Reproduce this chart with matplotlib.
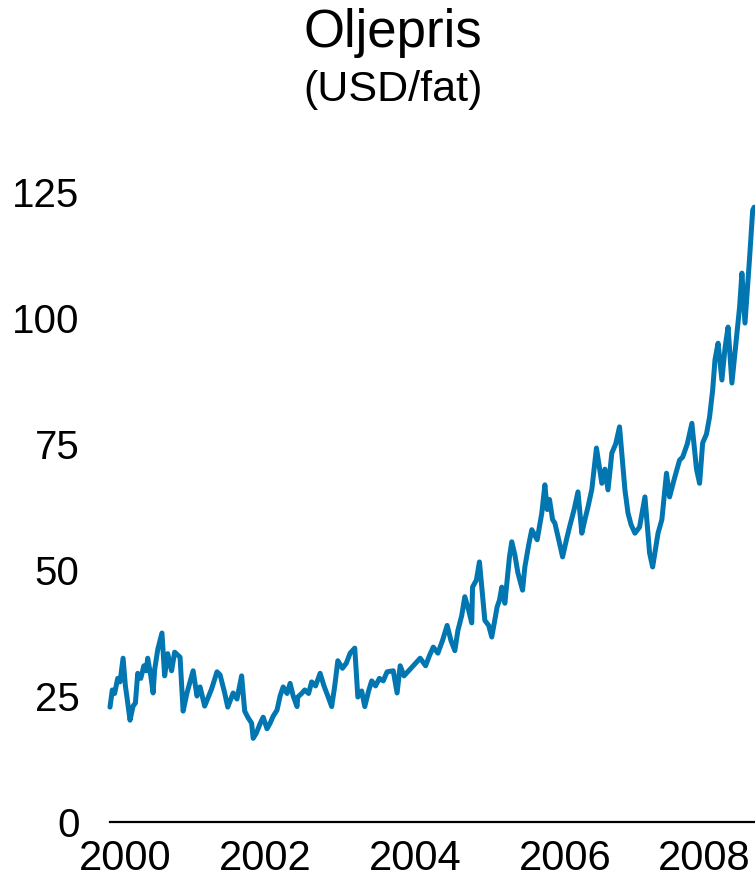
import matplotlib
matplotlib.use("Agg")
import matplotlib.pyplot as plt
import matplotlib.transforms as mtransforms

plt.rcParams['font.family'] = ['Liberation Sans', 'DejaVu Sans']

title = "Oljepris"
subtitle = "(USD/fat)"

years = [
    2000.00, 2000.03, 2000.06, 2000.10, 2000.13, 2000.17, 2000.20, 2000.22, 2000.26, 2000.30,
    2000.33, 2000.36, 2000.40, 2000.44, 2000.47, 2000.49, 2000.53, 2000.56, 2000.58, 2000.62,
    2000.675, 2000.71, 2000.75, 2000.80, 2000.84, 2000.91, 2000.95, 2001.00, 2001.08, 2001.13,
    2001.17, 2001.23, 2001.32, 2001.39, 2001.43, 2001.49, 2001.53, 2001.60, 2001.65, 2001.71,
    2001.75, 2001.79, 2001.84, 2001.86, 2001.90, 2001.95, 2001.99, 2002.04, 2002.08, 2002.12,
    2002.17, 2002.21, 2002.25, 2002.30, 2002.34, 2002.38, 2002.43, 2002.44, 2002.49, 2002.53,
    2002.58, 2002.62, 2002.67, 2002.73, 2002.78, 2002.83, 2002.88, 2002.92, 2002.96, 2003.02,
    2003.07, 2003.12, 2003.18, 2003.22, 2003.27, 2003.31, 2003.36, 2003.40, 2003.45, 2003.50,
    2003.55, 2003.60, 2003.68, 2003.73, 2003.77, 2003.82, 2003.88, 2003.94, 2004.03, 2004.10,
    2004.15, 2004.20, 2004.26, 2004.32, 2004.38, 2004.43, 2004.48, 2004.52, 2004.57, 2004.61,
    2004.66, 2004.70, 2004.71, 2004.76, 2004.80, 2004.84, 2004.87, 2004.92, 2004.96, 2005.03,
    2005.06, 2005.09, 2005.13, 2005.19, 2005.22, 2005.26, 2005.30, 2005.36, 2005.39, 2005.44,
    2005.48, 2005.55, 2005.61, 2005.65, 2005.68, 2005.71, 2005.75, 2005.78, 2005.83, 2005.88,
    2005.93, 2005.97, 2006.03, 2006.08, 2006.13, 2006.17, 2006.21, 2006.26, 2006.32, 2006.39,
    2006.43, 2006.47, 2006.52, 2006.57, 2006.62, 2006.69, 2006.73, 2006.77, 2006.82, 2006.88,
    2006.95, 2007.01, 2007.05, 2007.12, 2007.17, 2007.23, 2007.27, 2007.33, 2007.40, 2007.44,
    2007.50, 2007.56, 2007.62, 2007.66, 2007.70, 2007.75, 2007.79, 2007.83, 2007.86, 2007.90,
    2007.95, 2007.99, 2008.03, 2008.08, 2008.14, 2008.18, 2008.21, 2008.25, 2008.29, 2008.31,
    2008.35, 2008.37,
]

prices = [
    22.8, 26.2, 25.5, 28.5, 27.8, 32.5, 27.0, 24.8, 20.2, 23.0,
    23.6, 29.5, 28.5, 31.0, 30.0, 32.5, 29.0, 25.6, 30.2, 34.2,
    37.5, 29.0, 33.4, 30.0, 33.7, 32.7, 22.0, 25.6, 30.0, 25.0,
    26.8, 23.0, 26.4, 29.8, 29.2, 25.6, 22.8, 25.6, 24.4, 29.0,
    22.0, 20.8, 19.6, 16.6, 17.6, 19.5, 20.8, 18.5, 19.6, 21.0,
    22.2, 25.0, 26.8, 25.5, 27.5, 25.0, 22.9, 24.8, 25.5, 26.2,
    25.5, 27.8, 27.0, 29.5, 27.0, 25.0, 22.9, 27.0, 32.0, 30.5,
    31.5, 33.5, 34.5, 24.8, 26.0, 22.9, 26.0, 28.0, 27.0, 28.5,
    28.0, 29.8, 30.0, 25.6, 31.0, 29.0, 30.0, 31.0, 32.5, 31.0,
    33.0, 34.7, 33.5, 36.0, 39.0, 36.0, 34.0, 38.0, 41.0, 44.7,
    42.0, 39.5, 46.6, 48.0, 51.6, 45.0, 40.0, 39.0, 36.7, 42.7,
    44.0, 46.6, 43.4, 52.6, 55.6, 53.0, 49.4, 46.0, 50.6, 55.0,
    58.0, 56.0, 61.3, 66.9, 62.0, 64.0, 60.0, 59.3, 56.0, 52.6,
    56.0, 58.5, 62.0, 65.5, 57.3, 60.0, 62.5, 66.0, 74.2, 67.2,
    70.0, 65.9, 73.2, 75.0, 78.4, 65.9, 61.3, 59.0, 57.3, 58.5,
    64.5, 53.4, 50.6, 57.3, 60.0, 69.2, 64.5, 68.0, 71.8, 72.4,
    75.0, 79.1, 70.0, 67.2, 75.2, 77.0, 80.4, 85.7, 91.7, 95.0,
    87.7, 94.0, 98.2, 87.1, 96.2, 102.2, 108.9, 99.0, 107.5, 112.0,
    121.4, 122.0,
]

x_ticks = [2000, 2002, 2004, 2006, 2008]
x_tick_labels = ["2000", "2002", "2004", "2006", "2008"]
y_ticks = [0, 25, 50, 75, 100, 125]
y_tick_labels = ["0", "25", "50", "75", "100", "125"]

fig = plt.figure(figsize=(7.55, 8.83), dpi=100)
ax = fig.add_axes([110/755, 1 - 822/883, 1 - 110/755, (822 - 192)/883])

ax.plot(years, prices, color='#0176B1', linewidth=3.6, solid_joinstyle='round',
        solid_capstyle='round', clip_on=False)

ax.set_xlim(2000.0, 2008.38)
ax.set_ylim(0, 125)
ax.set_yticks(y_ticks)
ax.set_yticklabels(y_tick_labels)
ax.set_xticks(x_ticks)
ax.set_xticklabels(x_tick_labels)

for s in ['top', 'right', 'left']:
    ax.spines[s].set_visible(False)
ax.spines['bottom'].set_linewidth(1.6)
ax.spines['bottom'].set_color('#000000')

ax.tick_params(axis='y', length=0, pad=22, labelsize=29)
ax.tick_params(axis='x', length=0, pad=12, labelsize=30)

# shift labels slightly as in the reference, keeping the last one inside the figure
labels = ax.get_xticklabels()
offsets = [15, 1, -3, -7, -22]
for lab, dx in zip(labels, offsets):
    lab.set_transform(lab.get_transform() + mtransforms.ScaledTranslation(dx/100, 0, fig.dpi_scale_trans))

fig.text(393/755, 1 - 33/883, title, ha='center', va='center', fontsize=38)
fig.text(393/755, 1 - 90/883, subtitle, ha='center', va='center', fontsize=31)

fig.savefig('out.png', dpi=100)
